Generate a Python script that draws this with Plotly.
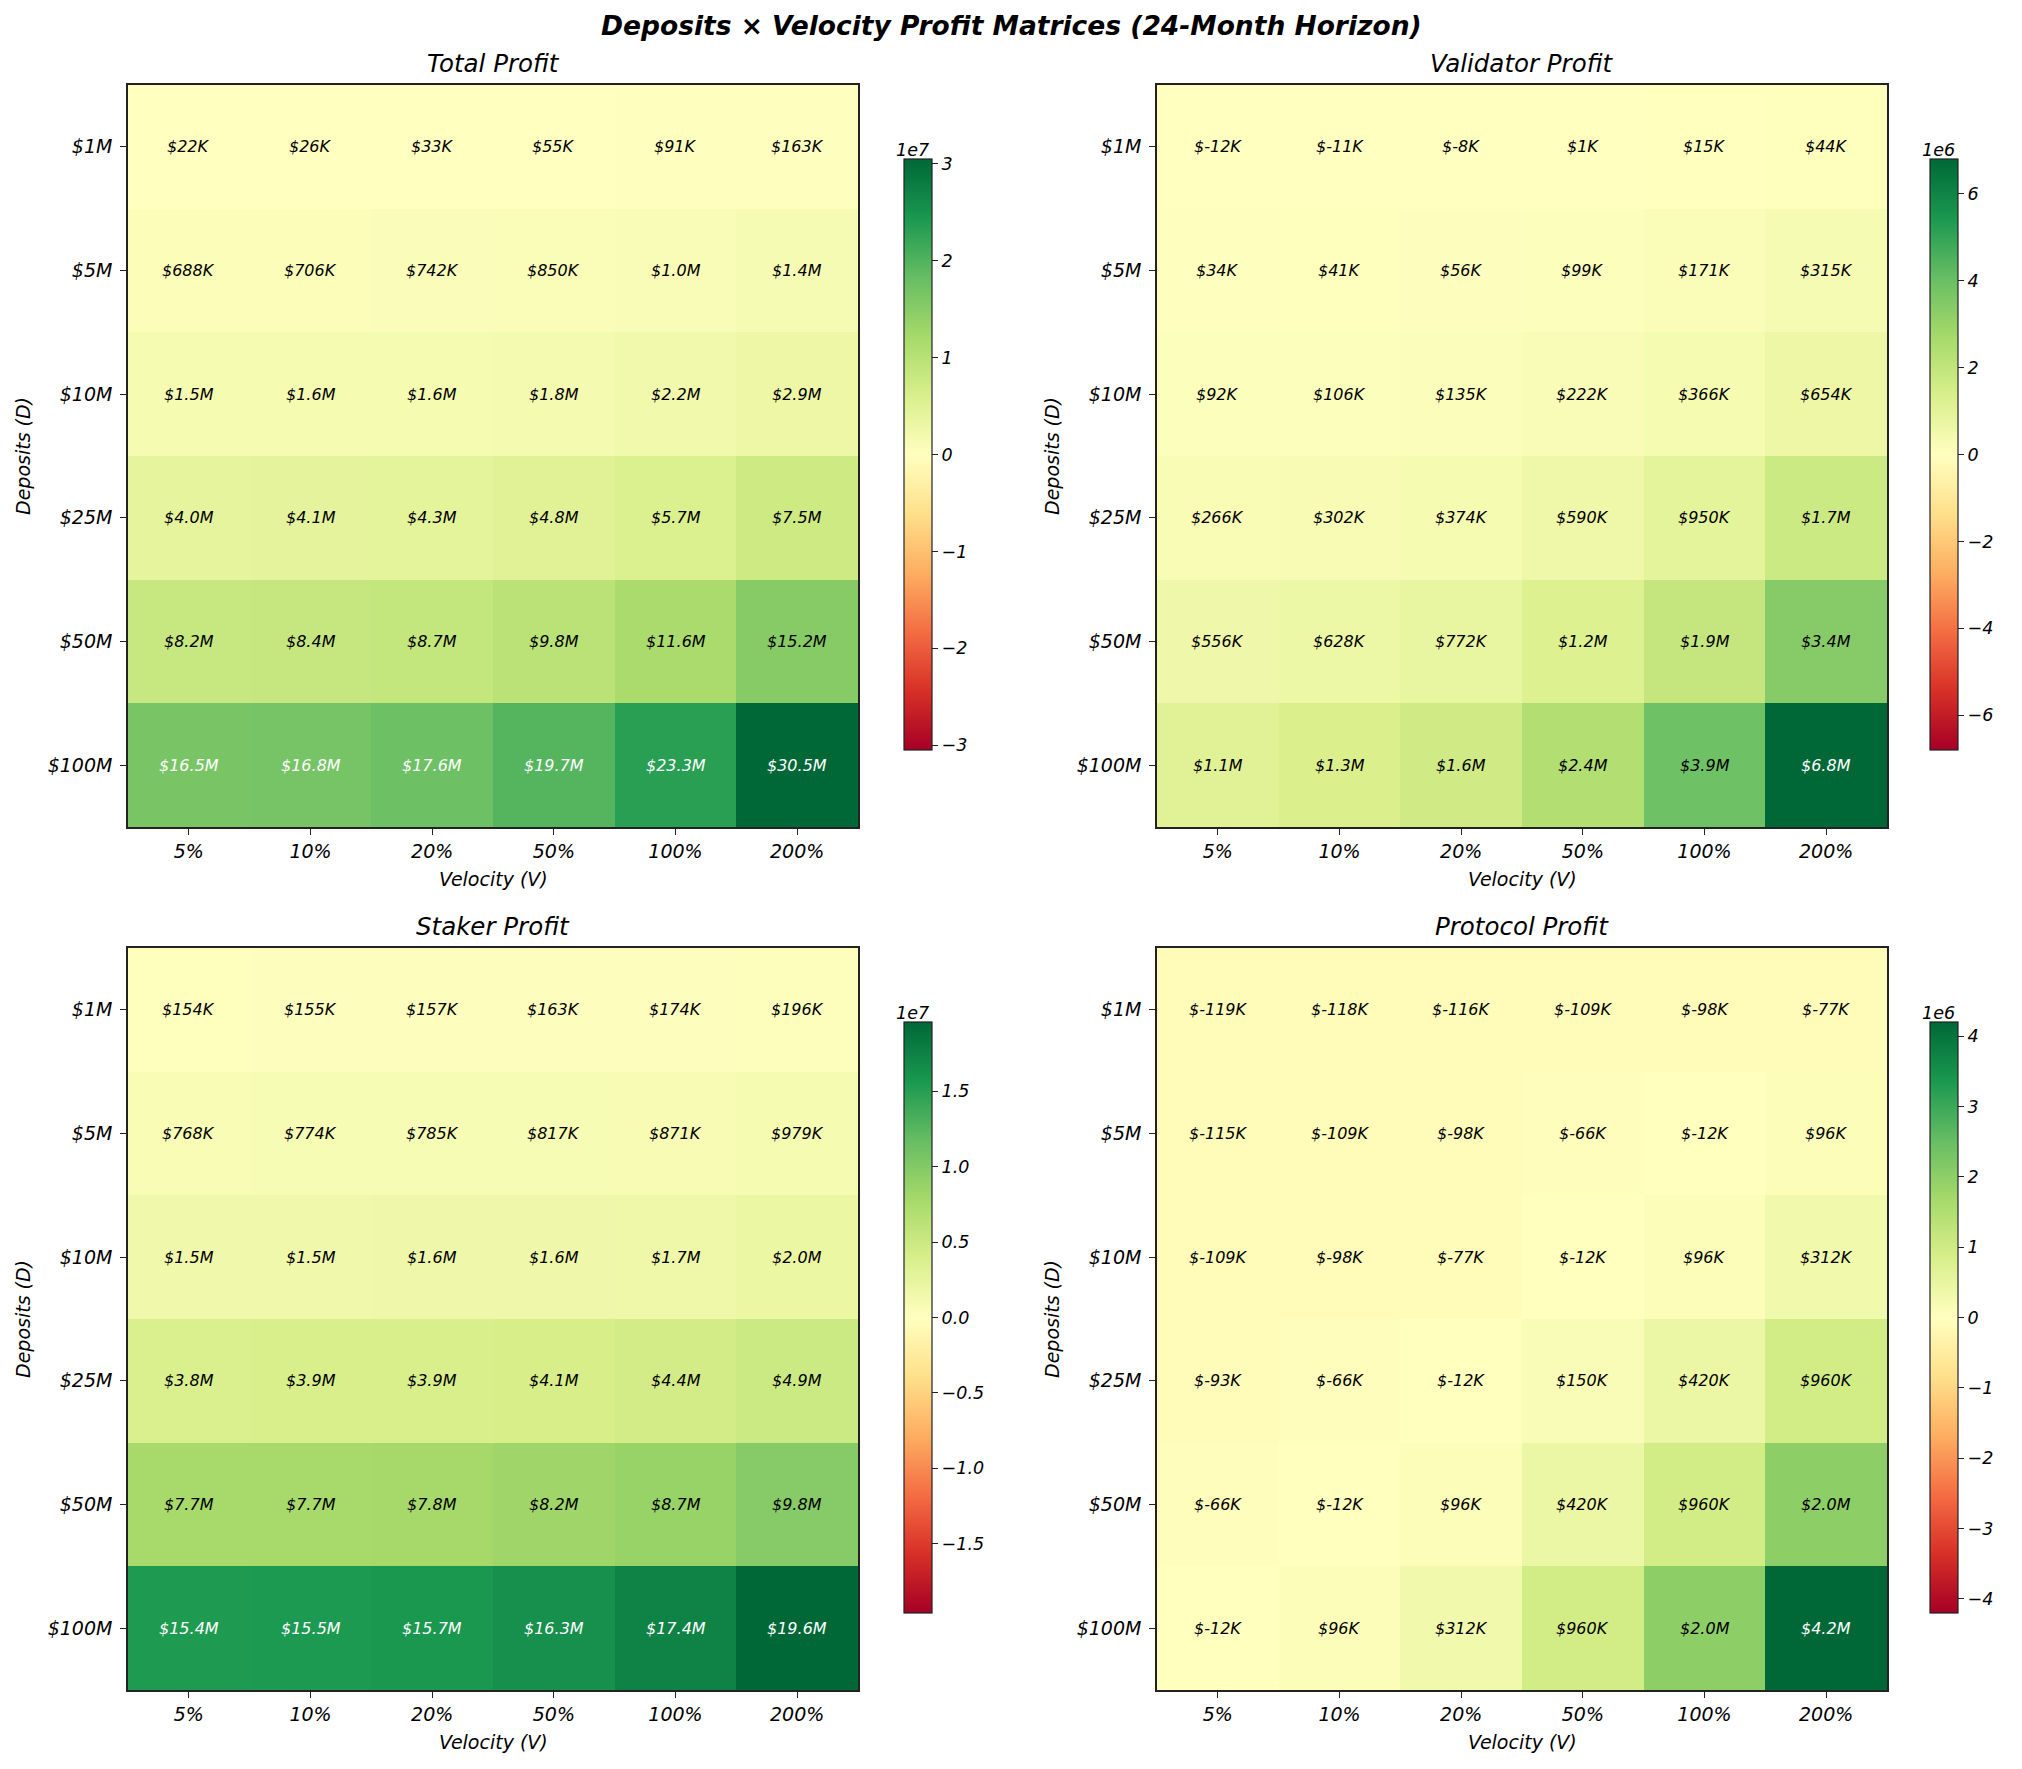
import plotly.graph_objects as go

W, H = 2022, 1769

velocity = ["5%", "10%", "20%", "50%", "100%", "200%"]
deposits = ["$1M", "$5M", "$10M", "$25M", "$50M", "$100M"]

# values in $K (thousands), rows = deposits, cols = velocity
total_profit = [
    [22, 26, 33, 55, 91, 163],
    [688, 706, 742, 850, 1000, 1400],
    [1500, 1600, 1600, 1800, 2200, 2900],
    [4000, 4100, 4300, 4800, 5700, 7500],
    [8200, 8400, 8700, 9800, 11600, 15200],
    [16500, 16800, 17600, 19700, 23300, 30500],
]
validator_profit = [
    [-12, -11, -8, 1, 15, 44],
    [34, 41, 56, 99, 171, 315],
    [92, 106, 135, 222, 366, 654],
    [266, 302, 374, 590, 950, 1700],
    [556, 628, 772, 1200, 1900, 3400],
    [1100, 1300, 1600, 2400, 3900, 6800],
]
staker_profit = [
    [154, 155, 157, 163, 174, 196],
    [768, 774, 785, 817, 871, 979],
    [1500, 1500, 1600, 1600, 1700, 2000],
    [3800, 3900, 3900, 4100, 4400, 4900],
    [7700, 7700, 7800, 8200, 8700, 9800],
    [15400, 15500, 15700, 16300, 17400, 19600],
]
protocol_profit = [
    [-119, -118, -116, -109, -98, -77],
    [-115, -109, -98, -66, -12, 96],
    [-109, -98, -77, -12, 96, 312],
    [-93, -66, -12, 150, 420, 960],
    [-66, -12, 96, 420, 960, 2000],
    [-12, 96, 312, 960, 2000, 4200],
]

panel_titles = ["Total Profit", "Validator Profit", "Staker Profit", "Protocol Profit"]
panel_data = [total_profit, validator_profit, staker_profit, protocol_profit]
cbar_exponent = ["1e7", "1e6", "1e7", "1e6"]
cbar_ticks = [
    [-3, -2, -1, 0, 1, 2, 3],
    [-6, -4, -2, 0, 2, 4, 6],
    [-1.5, -1.0, -0.5, 0.0, 0.5, 1.0, 1.5],
    [-4, -3, -2, -1, 0, 1, 2, 3, 4],
]
cbar_tick_fmt = ["{:.0f}", "{:.0f}", "{:.1f}", "{:.0f}"]
white_frac = [0.52, 0.6, 0.6, 0.6]

RdYlGn = [
    [0.0, "rgb(165,0,38)"], [0.1, "rgb(215,48,39)"], [0.2, "rgb(244,109,67)"],
    [0.3, "rgb(253,174,97)"], [0.4, "rgb(254,224,139)"], [0.5, "rgb(255,255,191)"],
    [0.6, "rgb(217,239,139)"], [0.7, "rgb(166,217,106)"], [0.8, "rgb(102,189,99)"],
    [0.9, "rgb(26,152,80)"], [1.0, "rgb(0,104,55)"],
]

FONT = "DejaVu Sans"

# pixel layout of each panel: (left, right, top, bottom), colorbar left
panels_px = [
    (128, 858, 85, 827, 904),
    (1157, 1887, 85, 827, 1930),
    (128, 858, 948, 1690, 904),
    (1157, 1887, 948, 1690, 1930),
]


def fx(px):
    return px / W


def fy(py):
    return 1 - py / H


def fmt(v):
    if abs(v) >= 1000:
        return f"${v/1000:.1f}M"
    return f"${v:.0f}K"


fig = go.Figure()
annotations = []
layout_axes = {}

for i, (title, data) in enumerate(zip(panel_titles, panel_data)):
    l, r, t, b, cbl = panels_px[i]
    z = [[v * 1000 for v in row] for row in data]
    vmax = max(abs(v) for row in z for v in row)
    exp = 1e7 if cbar_exponent[i] == "1e7" else 1e6
    xa = "x" if i == 0 else f"x{i+1}"
    ya = "y" if i == 0 else f"y{i+1}"
    cb_top, cb_bot = t + 74, b - 77
    fig.add_trace(go.Heatmap(
        x=velocity, y=deposits, z=z, xaxis=xa, yaxis=ya,
        colorscale=RdYlGn, zmin=-vmax, zmax=vmax, hoverinfo="skip",
        colorbar=dict(
            x=fx(cbl), xanchor="left", y=fy((cb_top + cb_bot) / 2), yanchor="middle",
            len=cb_bot - cb_top, lenmode="pixels", thickness=28, thicknessmode="pixels",
            xpad=0, ypad=0, outlinewidth=1.2, outlinecolor="#222",
            ticks="outside", ticklen=6, tickwidth=1.2, tickcolor="#222",
            tickvals=[tv * exp for tv in cbar_ticks[i]],
            ticktext=[cbar_tick_fmt[i].format(tv).replace("-", "\u2212") for tv in cbar_ticks[i]],
            tickfont=dict(family=FONT, size=17.5, color="black", style="italic"),
        ),
    ))
    layout_axes["xaxis" if i == 0 else f"xaxis{i+1}"] = dict(
        domain=[fx(l), fx(r)], anchor=ya, range=[-0.5, 5.5],
        showline=True, mirror=True, linecolor="#222", linewidth=1.5,
        ticks="outside", ticklen=6, tickwidth=1.4, tickcolor="#222",
        showgrid=False, zeroline=False,
        tickfont=dict(family=FONT, size=19, color="black", style="italic"),
    )
    layout_axes["yaxis" if i == 0 else f"yaxis{i+1}"] = dict(
        domain=[fy(b), fy(t)], anchor=xa, range=[5.5, -0.5],
        showline=True, mirror=True, linecolor="#222", linewidth=1.5,
        ticks="outside", ticklen=6, tickwidth=1.4, tickcolor="#222",
        showgrid=False, zeroline=False, ticklabelstandoff=4,
        tickfont=dict(family=FONT, size=19, color="black", style="italic"),
    )
    # cell labels
    for ri, row in enumerate(data):
        for ci, v in enumerate(row):
            col = "white" if v * 1000 > white_frac[i] * vmax else "black"
            annotations.append(dict(
                x=velocity[ci], y=deposits[ri], xref=xa, yref=ya, text=fmt(v),
                showarrow=False, font=dict(family=FONT, size=16, color=col, style="italic"),
            ))
    # subplot title
    annotations.append(dict(
        x=fx((l + r) / 2), y=fy(t), xref="paper", yref="paper",
        xanchor="center", yanchor="bottom",
        yshift=5, text=title, showarrow=False,
        font=dict(family=FONT, size=24.5, color="black", style="italic"),
    ))
    # x axis title
    annotations.append(dict(
        x=fx((l + r) / 2), y=fy(b + 52), xref="paper", yref="paper",
        xanchor="center", yanchor="middle",
        text="Velocity (V)", showarrow=False,
        font=dict(family=FONT, size=19, color="black", style="italic"),
    ))
    # y axis title
    annotations.append(dict(
        x=fx(l - 105), y=fy((t + b) / 2), xref="paper", yref="paper",
        xanchor="center", yanchor="middle", textangle=-90,
        text="Deposits (D)", showarrow=False,
        font=dict(family=FONT, size=19, color="black", style="italic"),
    ))
    # colorbar offset text
    annotations.append(dict(
        x=fx(cbl + 8), y=fy(cb_top), xref="paper", yref="paper",
        xanchor="center", yanchor="bottom", yshift=-3,
        text=cbar_exponent[i], showarrow=False,
        font=dict(family=FONT, size=17.5, color="black", style="italic"),
    ))

annotations.append(dict(
    x=0.5, y=fy(26), xref="paper", yref="paper", xanchor="center", yanchor="middle",
    text="<b>Deposits \u00d7 Velocity Profit Matrices (24-Month Horizon)</b>", showarrow=False,
    font=dict(family=FONT, size=26.5, color="black", style="italic", weight="bold"),
))

fig.update_layout(
    width=W, height=H, margin=dict(l=0, r=0, t=0, b=0),
    paper_bgcolor="white", plot_bgcolor="white",
    font=dict(family=FONT, color="black", style="italic"),
    annotations=annotations, showlegend=False,
    **layout_axes,
)

fig.write_html("out.html")
